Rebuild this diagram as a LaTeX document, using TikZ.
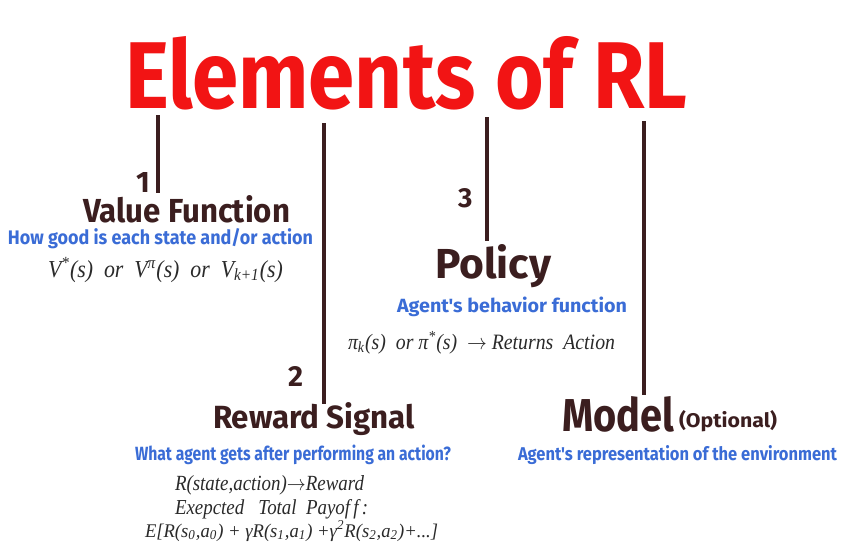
\documentclass[tikz,border=0pt]{standalone}
\usepackage{graphicx}
\usepackage{fontspec}
\setmainfont{Liberation Serif}
\newfontfamily\headf{Fira Sans}
\definecolor{titlered}{HTML}{F21414}
\definecolor{darkbr}{HTML}{3B1E1F}
\definecolor{bluet}{HTML}{3A6CD6}
\definecolor{mathc}{HTML}{2A2A2A}
\newcommand\fitw[2]{\resizebox{#1pt}{!}{#2}}
\newcommand\fitwh[3]{\resizebox{#1pt}{#2pt}{#3}}
\tikzset{
  txt/.style={anchor=base west, inner sep=0pt, outer sep=0pt},
  heading/.style={txt, text=darkbr, font=\headf\bfseries},
  sub/.style={txt, text=bluet, font=\headf\bfseries},
  formula/.style={txt, text=mathc, font=\itshape},
  numlabel/.style={txt, text=darkbr, font=\headf\bfseries},
  stem/.style={draw=darkbr, line width=4.5pt}
}
\begin{document}
\begin{tikzpicture}[x=1pt,y=-1pt]
\useasboundingbox[fill=white] (0,0) rectangle (859,550);
% title
\node[txt, text=titlered, font=\headf\bfseries] (title) at (125,108) {\resizebox{562pt}{72pt}{Elements of RL}};
% stems
\coordinate (t1) at (158,115);
\coordinate (t2) at (324,123);
\coordinate (t3) at (487,117);
\coordinate (t4) at (644,121);
\coordinate (e1) at (158,193);
\coordinate (e2) at (324,404);
\coordinate (e3) at (487,241);
\coordinate (e4) at (644,395);
\draw[stem] (t1) -- (e1);
\draw[stem] (t2) -- (e2);
\draw[stem] (t3) -- (e3);
\draw[stem] (t4) -- (e4);
% 1 Value function
\node[numlabel] (n1) at (136,192) {\resizebox{!}{20pt}{1}};
\node[heading] (vf) at (83,222) {\fitwh{207}{27}{Value Function}};
\node[sub] (vfs) at (8,244) {\fitwh{305}{16}{How good is each state and/or action}};
\node[formula] (vfm) at (48,277) {\fitwh{235}{20}{V\textsuperscript{*}(s)~~or~~V\textsuperscript{π}(s)~~or~~V\textsubscript{k+1}(s)}};
% 3 Policy
\node[numlabel] (n3) at (458,207) {\resizebox{!}{19pt}{3}};
\node[heading] (po) at (435,278) {\fitwh{116}{34}{Policy}};
\node[sub] (pos) at (397,312) {\fitwh{230}{15.5}{Agent's behavior function}};
\node[formula] (pom) at (348,349) {\fitwh{267}{18}{π\textsubscript{k}(s)~~or π\textsuperscript{*}(s)~~$\rightarrow$ Returns~~Action}};
% 2 Reward signal
\node[numlabel] (n2) at (288,386) {\resizebox{!}{20pt}{2}};
\node[heading] (rs) at (213,428) {\fitwh{202}{26}{Reward Signal}};
\node[sub] (rss) at (135,460) {\fitwh{316}{15.5}{What agent gets after performing an action?}};
\node[formula] (rs1) at (175,490) {\fitwh{189}{15}{R(state,action)$\rightarrow$Reward}};
\node[formula] (rs2) at (175,514) {\fitwh{193}{15}{Exepcted~~~Total~~Payof\,f\,:}};
\node[formula] (rs3) at (145,537) {\fitwh{293}{16}{E[R(s\textsubscript{0},a\textsubscript{0}) + γR(s\textsubscript{1},a\textsubscript{1}) +γ\textsuperscript{2}R(s\textsubscript{2},a\textsubscript{2})+...]}};
% 4 Model
\node[heading] (mo) at (562,431) {\fitwh{112}{35}{Model}};
\node[heading, font=\headf\bfseries] (mop) at (679,427) {\fitwh{98}{17}{(Optional)}};
\node[sub] (mos) at (518,460) {\fitwh{319}{15}{Agent's representation of the environment}};
\end{tikzpicture}
\end{document}
